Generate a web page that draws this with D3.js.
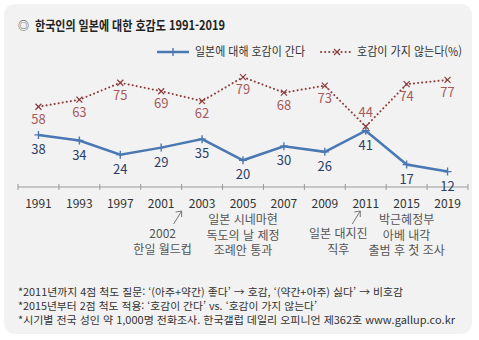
<!DOCTYPE html>
<html lang="ko">
<head>
<meta charset="UTF-8">
<title>한국인의 일본에 대한 호감도</title>
<script src="https://d3js.org/d3.v7.min.js"></script>
<style>
    body { margin: 0; background: #fff; }
    svg { display: block; font-family: "Noto Sans CJK KR", "Noto Sans", sans-serif; }
    .axis path, .axis line { stroke: #999; }
    .axis text { font-size: 12px; fill: #333; }
</style>
</head>
<body>
<svg id="chart" width="479" height="340"></svg>
<script>
// data
const years = ["1991", "1993", "1997", "2001", "2003", "2005", "2007", "2009", "2011", "2015", "2019"];
const favorable = [38, 34, 24, 29, 35, 20, 30, 26, 41, 17, 12];
const unfavorable = [58, 63, 75, 69, 62, 79, 68, 73, 44, 74, 77];
const seriesNames = ["일본에 대해 호감이 간다", "호감이 가지 않는다(%)"];
const notes = [
    "*2011년까지 4점 척도 질문: ‘(아주+약간) 좋다’ → 호감, ‘(약간+아주) 싫다’ → 비호감",
    "*2015년부터 2점 척도 적용: ‘호감이 간다’ vs. ‘호감이 가지 않는다’",
    "*시기별 전국 성인 약 1,000명 전화조사. 한국갤럽 데일리 오피니언 제362호 www.gallup.co.kr"
];
const noteWidths = [385, 299, 437];
// annotated events; arrow events point just before / into a year on the axis
const events = [
    { year: "2003", arrow: true, lines: ["2002", "한일 월드컵"] },
    { year: "2005", arrow: false, lines: ["일본 시네마현", "독도의 날 제정", "조례안 통과"] },
    { year: "2011", arrow: true, lines: ["일본 대지진", "직후"] },
    { year: "2015", arrow: false, lines: ["박근혜정부", "아베 내각", "출범 후 첫 조사"] }
];

const blue = "#4a78b3", red = "#8e3b3b";
const svg = d3.select("#chart");

// panel
svg.append("rect").attr("x", 4).attr("y", 4).attr("width", 468).attr("height", 330)
    .attr("rx", 11).attr("fill", "#f2f2f2");

// title
svg.append("text").attr("x", 18).attr("y", 30).attr("font-size", 11).attr("fill", "#333").text("◎");
svg.append("text").attr("x", 35).attr("y", 30).attr("font-size", 13).attr("font-weight", "bold")
    .attr("fill", "#222").attr("textLength", 190).attr("lengthAdjust", "spacingAndGlyphs")
    .text("한국인의 일본에 대한 호감도 1991-2019");

const x = d3.scaleBand().domain(years).range([18, 468]);
const y = d3.scaleLinear().domain([0, 100]).range([188.5, 47.5]);
const cx = d => x(d) + x.bandwidth() / 2;

// axis with ticks on band boundaries
const axisY = 187;
const axisG = svg.append("g").attr("class", "axis");
const bounds = years.map(d => x(d)).concat([x.range()[1]]);
axisG.append("line").attr("x1", 18).attr("x2", 468).attr("y1", axisY).attr("y2", axisY);
axisG.selectAll(".tk").data(bounds).enter().append("line")
    .attr("x1", d => d).attr("x2", d => d)
    .attr("y1", axisY - 3).attr("y2", axisY + 3);
axisG.selectAll(".lbl").data(years).enter().append("text")
    .attr("x", cx).attr("y", 208).attr("text-anchor", "middle").text(d => d);

// lines
const line = vals => d3.line().x((d, i) => cx(years[i])).y(d => y(d))(vals);
svg.append("path").attr("d", line(unfavorable)).attr("fill", "none").attr("stroke", red)
    .attr("stroke-width", 2).attr("stroke-dasharray", "0.1 4").attr("stroke-linecap", "round");
svg.append("path").attr("d", line(favorable)).attr("fill", "none").attr("stroke", blue)
    .attr("stroke-width", 2.5);

// markers
svg.selectAll(".xm").data(unfavorable).enter().append("path")
    .attr("transform", (d, i) => `translate(${cx(years[i])},${y(d)})`)
    .attr("d", "M-3,-3L3,3M-3,3L3,-3").attr("stroke", red).attr("stroke-width", 1.2);
svg.selectAll(".pm").data(favorable).enter().append("path")
    .attr("transform", (d, i) => `translate(${cx(years[i])},${y(d)})`)
    .attr("d", "M-4,0L4,0M0,-4L0,4").attr("stroke", blue).attr("stroke-width", 1.4);

// value labels
svg.selectAll(".bl").data(favorable).enter().append("text")
    .attr("x", (d, i) => cx(years[i])).attr("y", d => y(d) + 19)
    .attr("text-anchor", "middle").attr("font-size", 13).attr("fill", "#2c3f6b").text(d => d);
svg.selectAll(".rl").data(unfavorable).enter().append("text")
    .attr("x", (d, i) => cx(years[i]))
    .attr("y", (d, i) => d - favorable[i] < 10 ? y(d) - 9 : y(d) + 17)
    .attr("text-anchor", "middle").attr("font-size", 13).attr("fill", "#a65b5b").text(d => d);

// legend
const lg = svg.append("g");
lg.append("line").attr("x1", 157).attr("x2", 189).attr("y1", 52).attr("y2", 52)
    .attr("stroke", blue).attr("stroke-width", 2.5);
lg.append("path").attr("d", "M173,48L173,56").attr("stroke", blue).attr("stroke-width", 1.4);
lg.append("text").attr("x", 195).attr("y", 56).attr("font-size", 12).attr("fill", "#333")
    .attr("textLength", 110).attr("lengthAdjust", "spacingAndGlyphs").text(seriesNames[0]);
lg.append("line").attr("x1", 321).attr("x2", 353).attr("y1", 52).attr("y2", 52)
    .attr("stroke", red).attr("stroke-width", 2).attr("stroke-dasharray", "0.1 4").attr("stroke-linecap", "round");
lg.append("path").attr("d", "M334,49L340,55M334,55L340,49").attr("stroke", red).attr("stroke-width", 1.2);
lg.append("text").attr("x", 357).attr("y", 56).attr("font-size", 12).attr("fill", "#333")
    .attr("textLength", 105).attr("lengthAdjust", "spacingAndGlyphs").text(seriesNames[1]);

// event annotations
events.forEach((ev, n) => {
    let tx = cx(ev.year), startY = 224;
    if (ev.arrow) {
        // 2002 arrow sits on the tick before 2003; 2011 arrow points at the 2011 label
        const tip = n === 0 ? x(ev.year) : x(ev.year) + 15;
        tx = tip - (n === 0 ? 19 : 22);
        startY = 238;
        svg.append("path").attr("d", `M${tip - 8},224L${tip},211`)
            .attr("stroke", "#777").attr("stroke-width", 1).attr("fill", "none");
        svg.append("path").attr("d", `M${tip - 6},212L${tip},211L${tip},217`)
            .attr("stroke", "#777").attr("stroke-width", 1).attr("fill", "none");
    }
    ev.lines.forEach((t, k) => {
        svg.append("text").attr("x", tx).attr("y", startY + k * 15.5)
            .attr("text-anchor", "middle").attr("font-size", 12).attr("fill", "#555").text(t);
    });
});

// footnotes
svg.selectAll(".note").data(notes).enter().append("text")
    .attr("x", 18).attr("y", (d, i) => 296 + i * 14)
    .attr("font-size", 10.5).attr("fill", "#333")
    .attr("textLength", (d, i) => noteWidths[i]).attr("lengthAdjust", "spacingAndGlyphs")
    .text(d => d);
</script>
</body>
</html>
